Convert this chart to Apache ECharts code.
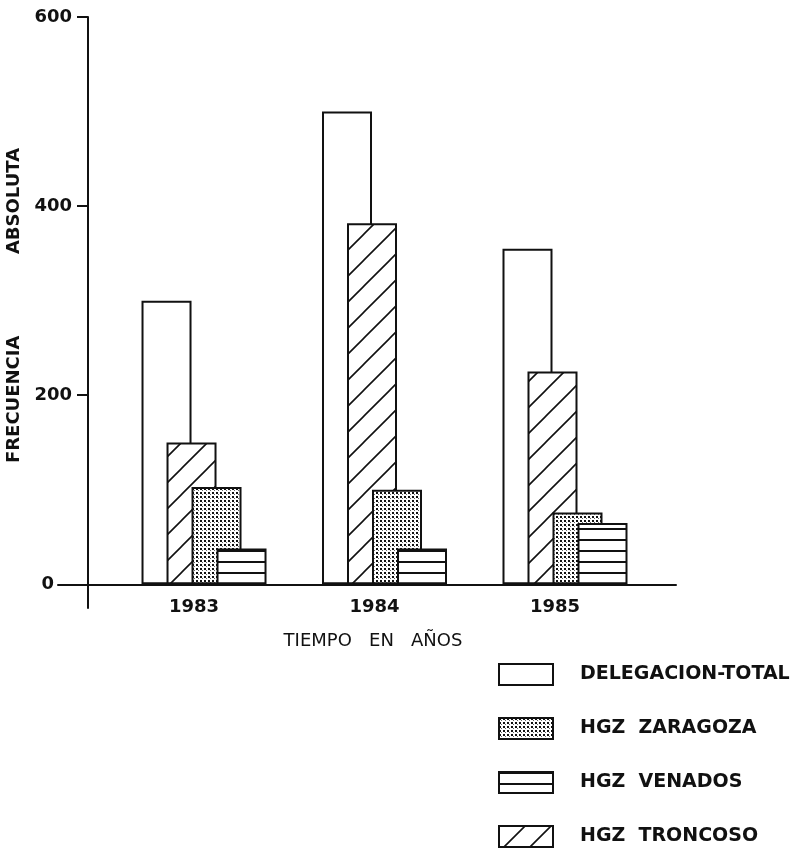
<!DOCTYPE html>
<html>
<head>
<meta charset="utf-8">
<script src="https://cdn.jsdelivr.net/npm/echarts@6/dist/echarts.min.js"></script>
<style>html,body{margin:0;padding:0;background:#fff}#c{width:795px;height:854px}</style>
</head>
<body>
<div id="c"></div>
<script>
// ---- data ----
var years = [1983, 1984, 1985];
var total = [300, 500, 355];      // DELEGACION-TOTAL
var troncoso = [150, 382, 225];   // HGZ TRONCOSO
var zaragoza = [103, 100, 76];    // HGZ ZARAGOZA
var venados = [38, 38, 65];       // HGZ VENADOS
var yTicks = [0, 200, 400, 600];
var names = ['DELEGACION-TOTAL', 'HGZ  ZARAGOZA', 'HGZ  VENADOS', 'HGZ  TRONCOSO'];

// ---- patterns ----
function tile(w, h, draw) {
  var c = document.createElement('canvas');
  c.width = w; c.height = h;
  var g = c.getContext('2d');
  g.fillStyle = '#fff'; g.fillRect(0, 0, w, h);
  g.fillStyle = '#111'; g.strokeStyle = '#111';
  draw(g);
  return { image: c, repeat: 'repeat' };
}
var hatch = tile(26, 26, function (g) {
  g.lineWidth = 1.6;
  g.beginPath();
  g.moveTo(-2, 28); g.lineTo(28, -2);
  g.moveTo(-2, 2); g.lineTo(2, -2);
  g.moveTo(24, 28); g.lineTo(28, 24);
  g.stroke();
});
var dots = tile(4, 4, function (g) {
  g.fillRect(0, 0, 2, 2);
  g.fillStyle = '#666';
  g.fillRect(2, 2, 1, 1);
});
var hlines = tile(4, 11, function (g) {
  g.fillRect(0, 0, 4, 2);
});

function pairs(vals) { return vals.map(function (v, i) { return [years[i], v]; }); }
function barSeries(name, vals, fill) {
  return {
    name: name, type: 'bar', data: pairs(vals),
    barWidth: 50, barGap: '-50%',
    itemStyle: { color: fill, borderColor: '#111', borderWidth: 2 },
    emphasis: { disabled: true }, animation: false
  };
}

var font = 'DejaVu Sans';
var chart = echarts.init(document.getElementById('c'), null, { renderer: 'canvas' });
chart.setOption({
  backgroundColor: '#fff',
  animation: false,
  grid: { left: 58, right: 119, top: 17, bottom: 246, outerBoundsMode: 'none' },
  xAxis: {
    type: 'value', min: 1982.191, max: 1985.615,
    name: 'TIEMPO   EN   AÑOS', nameLocation: 'middle', nameGap: 24,
    nameTextStyle: { fontFamily: font, fontSize: 18, color: '#111', padding: [0, 0, 0, 12] },
    axisLine: { onZero: true, lineStyle: { color: '#111', width: 2 } },
    axisTick: { show: false },
    splitLine: { show: false },
    axisLabel: {
      customValues: years, margin: -10,
      fontFamily: font, fontSize: 18, fontWeight: 'bold', color: '#111',
      padding: [0, 20, 0, 0],
      formatter: function (v) { return String(Math.round(v)); }
    }
  },
  yAxis: {
    type: 'value', min: -25, max: 600, offset: -30,
    name: 'FRECUENCIA             ABSOLUTA', nameLocation: 'middle', nameGap: 54,
    nameRotate: 90,
    nameTextStyle: { fontFamily: font, fontSize: 18, fontWeight: 'bold', color: '#111', padding: [0, 0, 0, 14] },
    axisLine: { show: true, lineStyle: { color: '#111', width: 2 } },
    axisTick: { show: true, customValues: yTicks, length: 11, lineStyle: { color: '#111', width: 2 } },
    splitLine: { show: false },
    axisLabel: {
      customValues: yTicks, margin: 16, fontFamily: font, fontSize: 18, fontWeight: 'bold', color: '#111',
      formatter: function (v) { return v === 0 ? '{z|0}' : String(v); },
      rich: { z: { fontFamily: font, fontSize: 18, fontWeight: 'bold', color: '#111', padding: [0, 18, 0, 0] } }
    }
  },
  legend: {
    orient: 'vertical', left: 498, top: 663, padding: 0,
    itemWidth: 54, itemHeight: 21, itemGap: 31, icon: 'rect',
    data: names,
    textStyle: { fontFamily: font, fontSize: 19, fontWeight: 'bold', color: '#111', padding: [0, 0, 0, 22] },
    selectedMode: false
  },
  series: [
    barSeries(names[0], total, '#fff'),
    barSeries(names[3], troncoso, hatch),
    barSeries(names[1], zaragoza, dots),
    barSeries(names[2], venados, hlines)
  ]
});
</script>
</body>
</html>
